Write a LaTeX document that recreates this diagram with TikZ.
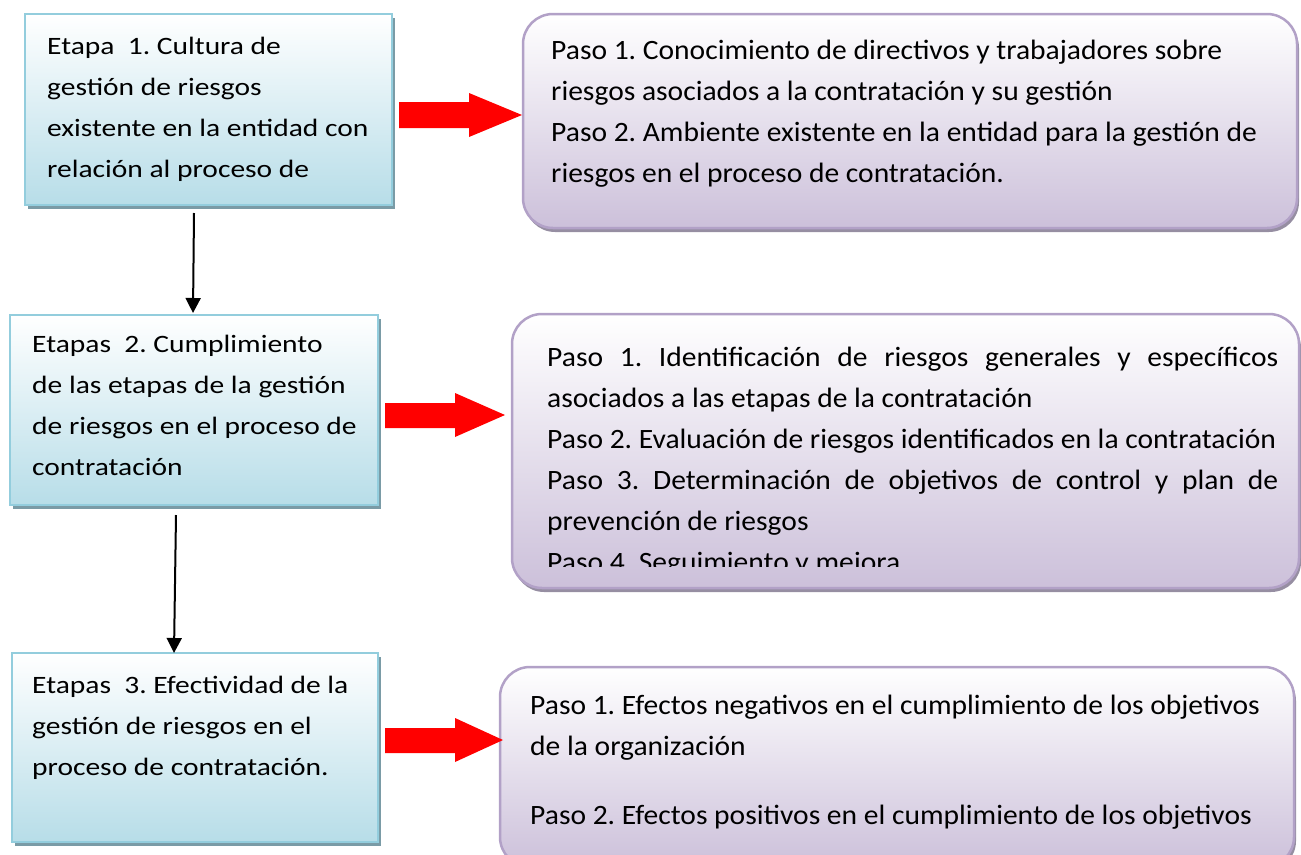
\documentclass[tikz,border=0pt]{standalone}
\usepackage{fontspec}
\setmainfont{Carlito}
\newfontfamily\leftfont[FakeStretch=1.18]{Carlito}
\newfontfamily\rightfont[FakeStretch=1.055]{Carlito}
\usetikzlibrary{arrows.meta,shadows}
\definecolor{lblue}{RGB}{183,221,232}
\definecolor{lborder}{RGB}{147,205,221}
\definecolor{lshadow}{RGB}{122,155,166}
\definecolor{lilac}{RGB}{204,192,218}
\definecolor{pborder}{RGB}{178,161,199}
\definecolor{pshadow}{RGB}{150,142,162}
\frenchspacing
\begin{document}
\begin{tikzpicture}[x=1pt,y=-1pt,
  lbox/.style={rectangle, draw=lborder, line width=2pt, top color=white, bottom color=lblue,
    inner sep=0pt, outer sep=0pt, anchor=north west,
    general shadow={fill=lshadow, shadow xshift=3pt, shadow yshift=-4pt}},
  rbox/.style={rectangle, rounded corners=30pt, draw=pborder, line width=2.5pt, top color=white, bottom color=lilac,
    inner sep=0pt, outer sep=0pt, anchor=north west,
    general shadow={fill=pshadow, shadow xshift=2pt, shadow yshift=-4pt}},
  ltext/.style={anchor=base west, inner sep=0pt, font=\leftfont\fontsize{25}{41}\selectfont\frenchspacing},
  rtext/.style={anchor=base west, inner sep=0pt, font=\rightfont\fontsize{28}{41}\selectfont\frenchspacing},
  blockarrow/.style={fill=red},
  flow/.style={line width=2pt, -{Triangle[width=15pt,length=15pt]}}
]
\useasboundingbox (0,0) rectangle (1301,854);
\clip (0,0) rectangle (1301,854);

% left boxes
\node[lbox, minimum width=367pt, minimum height=191pt] (L1) at (25,14) {};
\node[lbox, minimum width=368pt, minimum height=190pt] (L2) at (10,315) {};
\node[lbox, minimum width=366pt, minimum height=189pt] (L3) at (12,653) {};

% right boxes
\node[rbox, minimum width=774pt, minimum height=214pt] (R1) at (523,14) {};
\node[rbox, minimum width=787pt, minimum height=274pt] (R2) at (512,314) {};
\node[rbox, minimum width=794pt, minimum height=200pt] (R3) at (500,667) {};

% texts left
\node[ltext] (T1) at (47,54) {\vtop{\hbox{Etapa\ \ 1. Cultura de}\hbox{gestión de riesgos}\hbox{existente en la entidad con}\hbox{relación al proceso de}}};
\node[ltext] (T2) at (32,352) {\vtop{\hbox{Etapas\ \ 2. Cumplimiento}\hbox{de las etapas de la gestión}\hbox{de riesgos en el proceso de}\hbox{contratación}}};
\node[ltext] (T3) at (32,693) {\vtop{\hbox{Etapas\ \ 3. Efectividad de la}\hbox{gestión de riesgos en el}\hbox{proceso de contratación.}}};

% texts right
\node[rtext] (P1) at (551,59) {\vtop{\hbox{Paso 1. Conocimiento de directivos y trabajadores sobre}\hbox{riesgos asociados a la contratación y su gestión}\hbox{Paso 2. Ambiente existente en la entidad para la gestión de}\hbox{riesgos en el proceso de contratación.}}};
\begin{scope}
\clip (512,300) rectangle (1301,566);
\node[rtext] (P2) at (547,366) {\vtop{\hbox{\makebox[731pt][s]{Paso 1. Identificación de riesgos generales y específicos}}\hbox{asociados a las etapas de la contratación}\hbox{Paso 2. Evaluación de riesgos identificados en la contratación}\hbox{\makebox[731pt][s]{Paso 3. Determinación de objetivos de control y plan de}}\hbox{prevención de riesgos}\hbox{Paso 4. Seguimiento y mejora}}};
\end{scope}
\node[rtext] (P3) at (530,714) {\vtop{\hbox{Paso 1. Efectos negativos en el cumplimiento de los objetivos}\hbox{de la organización}\vskip 28pt\hbox{Paso 2. Efectos positivos en el cumplimiento de los objetivos}}};

% red block arrows
\fill[blockarrow] (399,102) -- (469,102) -- (469,93) -- (522,115) -- (469,137) -- (469,128) -- (399,128) -- cycle;
\fill[blockarrow] (385,403) -- (455,403) -- (455,393) -- (505,415) -- (455,437) -- (455,428) -- (385,428) -- cycle;
\fill[blockarrow] (385,728) -- (455,728) -- (455,718) -- (503,740) -- (455,762) -- (455,753) -- (385,753) -- cycle;

% black flow arrows
\coordinate (a1s) at (194,213);
\coordinate (a1e) at (193,313);
\coordinate (a2s) at (176,515);
\coordinate (a2e) at (174,653);
\draw[flow] (a1s) -- (a1e);
\draw[flow] (a2s) -- (a2e);
\end{tikzpicture}
\end{document}
